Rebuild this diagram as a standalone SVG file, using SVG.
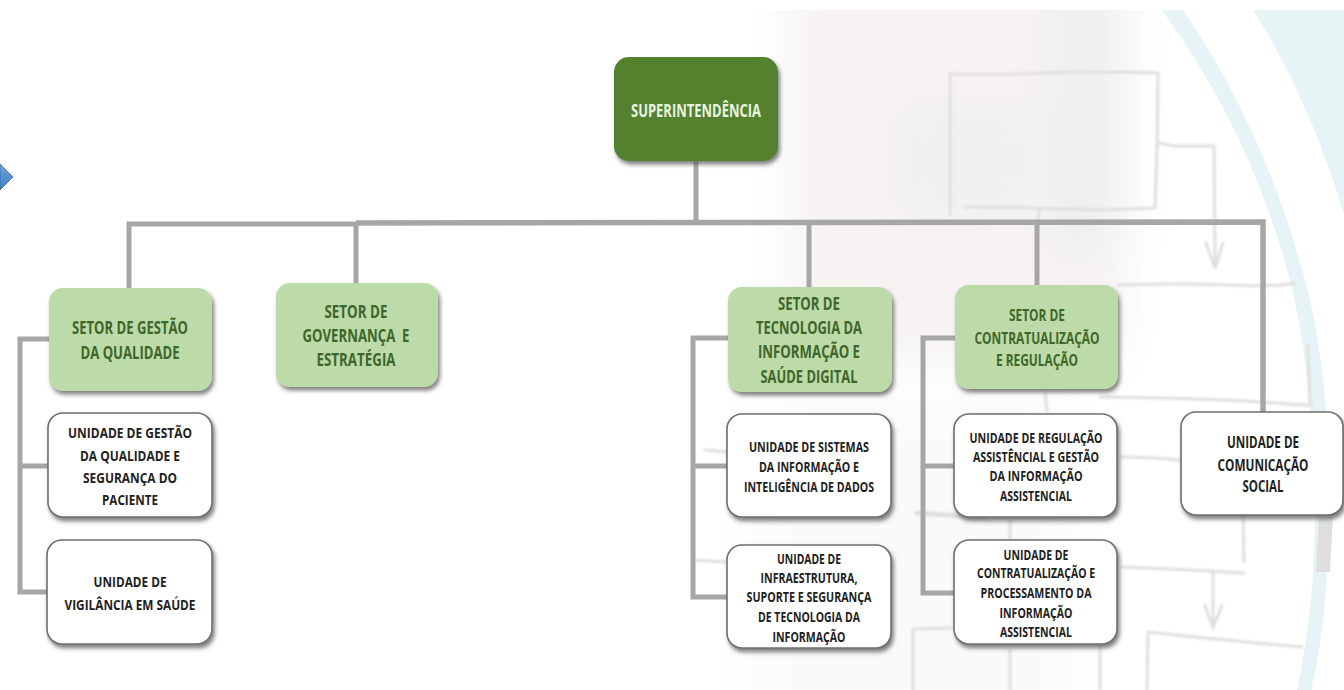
<svg xmlns="http://www.w3.org/2000/svg" width="1344" height="690" viewBox="0 0 1344 690">
<style>
text{font-family:"Open Sans","Noto Sans","Liberation Sans",sans-serif;font-weight:700;text-anchor:middle;white-space:pre}
.g text{fill:#3f6629;font-size:17px}
.g.m text{font-size:16px}
.w text{fill:#1e1e1e;font-size:15px}
.w.m text{font-size:14.5px}
.w.l text{font-size:16px}
.t text{fill:#e9f4e0;font-size:17px}
.gb{fill:#bcdba9}
.wb{fill:#fff;stroke:#6f6f6f;stroke-width:1.6}
.tb{fill:#52812f}
.c{fill:none;stroke:#a6a6a6;stroke-width:5;stroke-linejoin:miter}
.s{fill:none;stroke:#e0dfde;stroke-width:3;stroke-linecap:round;stroke-linejoin:round}
</style>
<defs>
<filter id="bl" filterUnits="userSpaceOnUse" x="600" y="-100" width="744" height="900"><feGaussianBlur stdDeviation="22"/></filter>
<filter id="sb" filterUnits="userSpaceOnUse" x="600" y="0" width="744" height="690"><feGaussianBlur stdDeviation="1"/></filter>
<filter id="sh" x="-10%" y="-10%" width="125%" height="130%"><feDropShadow dx="2" dy="3.5" stdDeviation="2" flood-color="#555" flood-opacity="0.75"/></filter>
<clipPath id="cl"><rect x="0" y="10" width="1344" height="680"/></clipPath>
<linearGradient id="dia" x1="0" y1="0" x2="0" y2="1"><stop offset="0" stop-color="#6ea5de"/><stop offset="1" stop-color="#3f7fc2"/></linearGradient>
</defs>
<rect width="1344" height="690" fill="#fff"/>
<g clip-path="url(#cl)">
<g filter="url(#bl)">
<rect x="790" y="-60" width="335" height="420" fill="#f6f3f2"/>
<rect x="750" y="400" width="330" height="400" fill="#fbfafa"/>
<rect x="1050" y="-40" width="75" height="290" fill="#efefef"/>
<rect x="900" y="110" width="130" height="100" fill="#f0f0f0"/>
</g>
<path d="M1253 10Q1310 100 1344 215L1344 10Z" fill="#e6f4f6"/>
<path d="M1162 10Q1250 130 1290 280C1312 370 1330 540 1297 690L1312 690C1342 540 1330 370 1305 280Q1265 130 1183 10Z" fill="#e6f4f6"/>
<path d="M1319 515L1333 515L1330 572L1316 572Z" fill="#dfdfdf"/>
</g>
<g id="sketch" class="s" filter="url(#sb)">
<path d="M950 215L950 74Q1010 75 1045 73T1158 73L1157 150L1155 208L1100 210Q1030 207 965 207"/>
<path d="M1039 208L1038 222M1158 143L1175 146L1214 146L1215 268M1206 243L1215 268L1223 243"/>
<path d="M1118 285Q1180 283 1230 285T1295 283"/>
<path d="M1100 397Q1200 398 1260 402T1310 405L1308 345"/>
<path d="M1122 457Q1150 457 1180 460M1045 392L1047 412M1010 520L1010 540"/>
<path d="M705 450L727 452M693 560L727 562"/>
<path d="M917 513Q960 516 985 517" stroke-width="5"/>
<path d="M1243 515L1244 562M1122 567Q1180 569 1244 573M1213 573L1213 628M1205 605L1213 628L1222 605"/>
<path d="M1147 690L1148 632Q1220 640 1302 647M1100 645L1100 690M913 690L913 629L951 628M1010 650L1010 690"/>
</g>
<g id="connectors" class="c">
<path d="M129 288L129 224L356 224" />
<path d="M356 223L1263 222L1263 412" stroke-width="5.5"/>
<path d="M356 222L356 283M809 222L809 287M1037 222L1037 285M696 161L696 225"/>
<path d="M49 339L20 339L20 592L48 592M20 466L48 466"/>
<path d="M728 338L693 338L693 597L727 597M693 466L727 466"/>
<path d="M955 338L923 338L923 593L954 593M923 466L954 466" />
</g>
<polygon id="marker-diamond" points="0,164 13,177 0,190" fill="url(#dia)" stroke="#3a6ea5" stroke-width="0.8"/>
<g id="n-super" class="t"><rect class="tb" x="614" y="57" width="164" height="104" rx="15" filter="url(#sh)"/><text x="696" y="117" textLength="130" lengthAdjust="spacingAndGlyphs">SUPERINTENDÊNCIA</text></g>
<g id="n-qualidade" class="g"><rect class="gb" x="49" y="288" width="163" height="103" rx="14" filter="url(#sh)"/><text x="130" y="334" textLength="116" lengthAdjust="spacingAndGlyphs">SETOR DE GESTÃO</text><text x="130" y="359" textLength="99" lengthAdjust="spacingAndGlyphs">DA QUALIDADE</text></g>
<g id="n-governanca" class="g"><rect class="gb" x="276" y="283" width="162" height="104" rx="14" filter="url(#sh)"/><text x="356" y="318" textLength="63" lengthAdjust="spacingAndGlyphs">SETOR DE</text><text x="356" y="342" textLength="107" lengthAdjust="spacingAndGlyphs">GOVERNANÇA  E</text><text x="356" y="366" textLength="79" lengthAdjust="spacingAndGlyphs">ESTRATÉGIA</text></g>
<g id="n-ti" class="g"><rect class="gb" x="728" y="287" width="164" height="105" rx="14" filter="url(#sh)"/><text x="809" y="310" textLength="62" lengthAdjust="spacingAndGlyphs">SETOR DE</text><text x="809" y="334" textLength="106" lengthAdjust="spacingAndGlyphs">TECNOLOGIA DA</text><text x="809" y="358" textLength="102" lengthAdjust="spacingAndGlyphs">INFORMAÇÃO E</text><text x="809" y="383" textLength="97" lengthAdjust="spacingAndGlyphs">SAÚDE DIGITAL</text></g>
<g id="n-contrat" class="g m"><rect class="gb" x="955" y="285" width="163" height="104" rx="14" filter="url(#sh)"/><text x="1037" y="321" textLength="56" lengthAdjust="spacingAndGlyphs">SETOR DE</text><text x="1037" y="344" textLength="125" lengthAdjust="spacingAndGlyphs">CONTRATUALIZAÇÃO</text><text x="1037" y="366" textLength="82" lengthAdjust="spacingAndGlyphs">E REGULAÇÃO</text></g>
<g id="n-u-qualidade" class="w"><rect class="wb" x="48" y="413" width="164" height="104" rx="15" filter="url(#sh)"/><text x="130" y="438" textLength="124" lengthAdjust="spacingAndGlyphs">UNIDADE DE GESTÃO</text><text x="130" y="461" textLength="100" lengthAdjust="spacingAndGlyphs">DA QUALIDADE E</text><text x="130" y="483" textLength="94" lengthAdjust="spacingAndGlyphs">SEGURANÇA DO</text><text x="130" y="505" textLength="56" lengthAdjust="spacingAndGlyphs">PACIENTE</text></g>
<g id="n-u-vigilancia" class="w"><rect class="wb" x="47" y="540" width="165" height="104" rx="15" filter="url(#sh)"/><text x="130" y="587" textLength="73" lengthAdjust="spacingAndGlyphs">UNIDADE DE</text><text x="130" y="610" textLength="131" lengthAdjust="spacingAndGlyphs">VIGILÂNCIA EM SAÚDE</text></g>
<g id="n-u-sistemas" class="w m"><rect class="wb" x="727" y="414" width="164" height="103" rx="15" filter="url(#sh)"/><text x="809" y="452" textLength="120" lengthAdjust="spacingAndGlyphs">UNIDADE DE SISTEMAS</text><text x="809" y="472" textLength="100" lengthAdjust="spacingAndGlyphs">DA INFORMAÇÃO E</text><text x="809" y="492" textLength="130" lengthAdjust="spacingAndGlyphs">INTELIGÊNCIA DE DADOS</text></g>
<g id="n-u-infra" class="w m"><rect class="wb" x="727" y="545" width="164" height="103" rx="15" filter="url(#sh)"/><text x="809" y="564" textLength="64" lengthAdjust="spacingAndGlyphs">UNIDADE DE</text><text x="809" y="583" textLength="97" lengthAdjust="spacingAndGlyphs">INFRAESTRUTURA,</text><text x="809" y="602" textLength="125" lengthAdjust="spacingAndGlyphs">SUPORTE E SEGURANÇA</text><text x="809" y="622" textLength="102" lengthAdjust="spacingAndGlyphs">DE TECNOLOGIA DA</text><text x="809" y="642" textLength="73" lengthAdjust="spacingAndGlyphs">INFORMAÇÃO</text></g>
<g id="n-u-regulacao" class="w m"><rect class="wb" x="954" y="414" width="163" height="103" rx="15" filter="url(#sh)"/><text x="1036" y="443" textLength="133" lengthAdjust="spacingAndGlyphs">UNIDADE DE REGULAÇÃO</text><text x="1036" y="462" textLength="126" lengthAdjust="spacingAndGlyphs">ASSISTÊNCIAL E GESTÃO</text><text x="1036" y="481" textLength="93" lengthAdjust="spacingAndGlyphs">DA INFORMAÇÃO</text><text x="1036" y="501" textLength="72" lengthAdjust="spacingAndGlyphs">ASSISTENCIAL</text></g>
<g id="n-u-contrat" class="w m"><rect class="wb" x="954" y="540" width="163" height="104" rx="15" filter="url(#sh)"/><text x="1036" y="560" textLength="65" lengthAdjust="spacingAndGlyphs">UNIDADE DE</text><text x="1036" y="578" textLength="118" lengthAdjust="spacingAndGlyphs">CONTRATUALIZAÇÃO E</text><text x="1036" y="598" textLength="111" lengthAdjust="spacingAndGlyphs">PROCESSAMENTO DA</text><text x="1036" y="618" textLength="73" lengthAdjust="spacingAndGlyphs">INFORMAÇÃO</text><text x="1036" y="637" textLength="72" lengthAdjust="spacingAndGlyphs">ASSISTENCIAL</text></g>
<g id="n-u-comunicacao" class="w l"><rect class="wb" x="1181" y="412" width="162" height="103" rx="15" filter="url(#sh)"/><text x="1263" y="448" textLength="72" lengthAdjust="spacingAndGlyphs">UNIDADE DE</text><text x="1263" y="471" textLength="91" lengthAdjust="spacingAndGlyphs">COMUNICAÇÃO</text><text x="1263" y="492" textLength="41" lengthAdjust="spacingAndGlyphs">SOCIAL</text></g>
</svg>
